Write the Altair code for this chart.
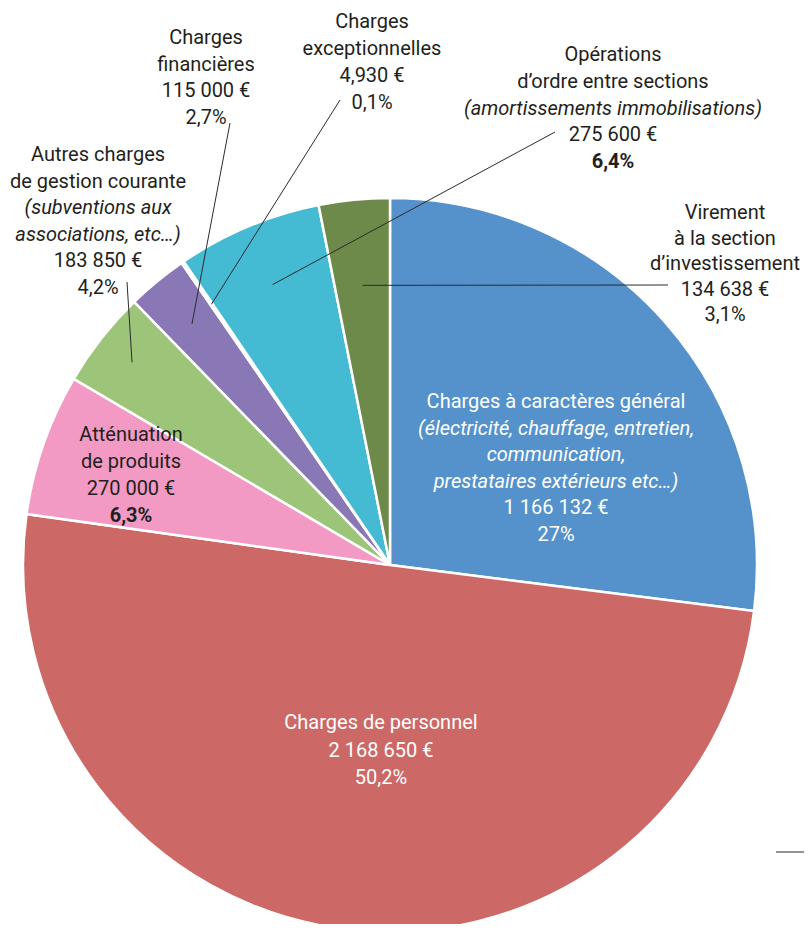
import math
import altair as alt
import pandas as pd

# ---------------- data ----------------
categories = [
    "Charges à caractères général",
    "Charges de personnel",
    "Atténuation de produits",
    "Autres charges de gestion courante",
    "Charges financières",
    "Charges exceptionnelles",
    "Opérations d'ordre entre sections",
    "Virement à la section d'investissement",
]
amounts = [1166132, 2168650, 270000, 183850, 115000, 4930, 275600, 134638]
amount_labels = ["1 166 132 €", "2 168 650 €", "270 000 €", "183 850 €",
                 "115 000 €", "4,930 €", "275 600 €", "134 638 €"]
percent_labels = ["27%", "50,2%", "6,3%", "4,2%", "2,7%", "0,1%", "6,4%", "3,1%"]
title_lines = [
    [("Charges à caractères général", False), ("(électricité, chauffage, entretien,", True),
     ("communication,", True), ("prestataires extérieurs etc…)", True)],
    [("Charges de personnel", False)],
    [("Atténuation", False), ("de produits", False)],
    [("Autres charges", False), ("de gestion courante", False),
     ("(subventions aux", True), ("associations, etc…)", True)],
    [("Charges", False), ("financières", False)],
    [("Charges", False), ("exceptionnelles", False)],
    [("Opérations", False), ("d’ordre entre sections", False),
     ("(amortissements immobilisations)", True)],
    [("Virement", False), ("à la section", False), ("d’investissement", False)],
]

# ---------------- styling / layout ----------------
colors = ["#5592CB", "#CC6966", "#F39AC4", "#9DC57A", "#8A78B6", "#F6B01A", "#44BAD3", "#6D8A4A"]
W, H = 796, 916
OFF = 8  # page margin
CX, CY, R = 390 - OFF, 565 - OFF, 367
FONT = "Roboto"
FS = 20
DARK = "#231F20"
# label block: centre x, first line y (page coords), line spacing, colour, bold percent
label_layout = {
    0: (556, 402, 26.6, "white", False),
    1: (381, 723, 27.5, "white", False),
    2: (131, 435, 27.0, DARK, True),
    3: (98, 155, 26.6, DARK, False),
    4: (206, 38, 26.7, DARK, False),
    5: (372, 22, 27.0, DARK, False),
    6: (613, 55, 26.8, DARK, True),
    7: (725, 213, 25.6, DARK, False),
}
# leader lines: outer end (page coords) and radius of inner end
leader_layout = {
    3: ((127, 282), 328),
    4: ((230, 123), 312),
    5: ((340, 100), 316),
    6: ((555, 132), 304),
    7: ((668, 285), 281),
}

pie_df = pd.DataFrame({"cat": categories, "value": amounts, "idx": list(range(len(categories)))})

rows = []
for i in range(len(categories)):
    cx, y0, sp, col, bold_pct = label_layout[i]
    lines = [(t, it, False) for t, it in title_lines[i]]
    lines.append((amount_labels[i], False, False))
    lines.append((percent_labels[i], False, bold_pct))
    for k, (t, it, b) in enumerate(lines):
        rows.append({"x": cx - OFF, "y": y0 + k * sp - OFF, "text": t,
                     "italic": it, "bold": b, "col": col})
text_df = pd.DataFrame(rows)

total = sum(amounts)
cum = 0
mids = []
for v in amounts:
    mids.append((cum + v / 2) / total * 2 * math.pi)
    cum += v
lrows = []
for i, ((ox, oy), r) in leader_layout.items():
    a = mids[i]
    lrows.append({"x": ox - OFF, "y": oy - OFF,
                  "x2": CX + r * math.sin(a), "y2": CY - r * math.cos(a)})
lrows.append({"x": 776 - OFF, "y": 852 - OFF, "x2": 812 - OFF, "y2": 852 - OFF})
lead_df = pd.DataFrame(lrows)

xs = alt.Scale(domain=[0, W], nice=False, zero=False)
ys = alt.Scale(domain=[0, H], nice=False, zero=False, reverse=True)

pie = alt.Chart(pie_df).mark_arc(radius=R, stroke="white", strokeWidth=2.5).encode(
    theta=alt.Theta("value:Q", stack=True),
    color=alt.Color("cat:N", scale=alt.Scale(domain=categories, range=colors), legend=None),
    order=alt.Order("idx:Q"),
    x=alt.value(CX),
    y=alt.value(CY),
)

leaders = alt.Chart(lead_df).mark_rule(color="#2b2b2b", strokeWidth=1).encode(
    x=alt.X("x:Q", scale=xs, axis=None),
    y=alt.Y("y:Q", scale=ys, axis=None),
    x2="x2:Q",
    y2="y2:Q",
)

layers = [pie, leaders]
for it in (False, True):
    for b in (False, True):
        sub = text_df[(text_df["italic"] == it) & (text_df["bold"] == b)]
        if len(sub) == 0:
            continue
        layers.append(
            alt.Chart(sub).mark_text(
                font=FONT, fontSize=FS, align="center", baseline="middle",
                fontStyle="italic" if it else "normal",
                fontWeight="bold" if b else "normal",
            ).encode(
                x=alt.X("x:Q", scale=xs, axis=None),
                y=alt.Y("y:Q", scale=ys, axis=None),
                text="text:N",
                color=alt.Color("col:N", scale=None),
            )
        )

chart = alt.layer(*layers).properties(
    width=W, height=H, padding=0, autosize=alt.AutoSizeParams(type="none")
).configure_view(stroke=None)

chart.save("out.html", embed_options={"renderer": "svg", "actions": False})
